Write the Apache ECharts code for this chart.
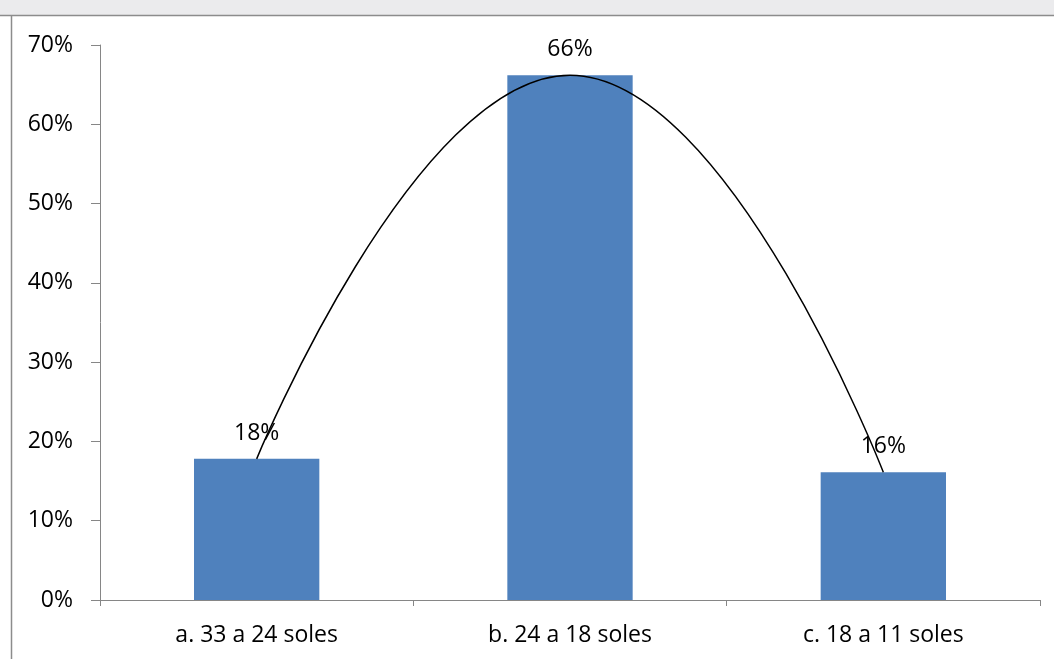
<!DOCTYPE html>
<html>
<head>
<meta charset="utf-8">
<script src="https://cdn.jsdelivr.net/npm/echarts@6/dist/echarts.min.js"></script>
<style>
  html, body { margin: 0; padding: 0; background: #ffffff; }
  #chart { width: 1054px; height: 659px; }
</style>
</head>
<body>
<div id="chart"></div>
<script>
// Income ranges and share of respondents in each one
const categories = ['a. 33 a 24 soles', 'b. 24 a 18 soles', 'c. 18 a 11 soles'];
const shares = [0.178, 0.662, 0.161];
const yTicks = { min: 0, max: 0.7, interval: 0.1 };

const FONT = '"Open Sans", "Noto Sans", sans-serif';
const FONT_SIZE = 23;
const pct = v => Math.round(v * 100) + '%';

const chart = echarts.init(document.getElementById('chart'), null, { renderer: 'canvas' });

chart.setOption({
  backgroundColor: '#ffffff',
  animation: false,
  grid: { left: 100, right: 14, top: 45, bottom: 59, containLabel: false },
  graphic: [
    // page header strip and frame edge around the figure
    { type: 'rect', shape: { x: 0, y: 0, width: 1054, height: 15 },
      style: { fill: '#ebebed' }, z: 0 },
    { type: 'line', shape: { x1: 0, y1: 15.5, x2: 1054, y2: 15.5 },
      style: { stroke: '#8c8c8c', lineWidth: 1.5 }, z: 1 },
    { type: 'line', shape: { x1: 11.5, y1: 15, x2: 11.5, y2: 659 },
      style: { stroke: '#8c8c8c', lineWidth: 1.5 }, z: 1 }
  ],
  xAxis: {
    type: 'category',
    data: categories,
    boundaryGap: true,
    axisLine: { lineStyle: { color: '#868686', width: 1 } },
    axisTick: { show: true, length: 6, lineStyle: { color: '#868686' } },
    axisLabel: { color: '#000000', fontFamily: FONT, fontSize: FONT_SIZE, margin: 24 },
    splitLine: { show: false }
  },
  yAxis: {
    type: 'value',
    min: yTicks.min,
    max: yTicks.max,
    interval: yTicks.interval,
    axisLine: { show: true, lineStyle: { color: '#868686', width: 1 } },
    axisTick: { show: true, length: 9, lineStyle: { color: '#868686' } },
    axisLabel: { color: '#000000', fontFamily: FONT, fontSize: FONT_SIZE, margin: 27,
      formatter: v => pct(v) },
    splitLine: { show: false }
  },
  series: [
    {
      type: 'bar',
      data: shares,
      barWidth: '40%',
      itemStyle: { color: '#4f81bd' },
      label: {
        show: true,
        position: 'top',
        distance: 14,
        color: '#000000',
        fontFamily: FONT,
        fontSize: FONT_SIZE,
        formatter: p => pct(p.value)
      },
      z: 2
    },
    {
      type: 'line',
      data: shares,
      smooth: 0.5,
      symbol: 'none',
      lineStyle: { color: '#000000', width: 1.5 },
      z: 3
    }
  ]
});
</script>
</body>
</html>
